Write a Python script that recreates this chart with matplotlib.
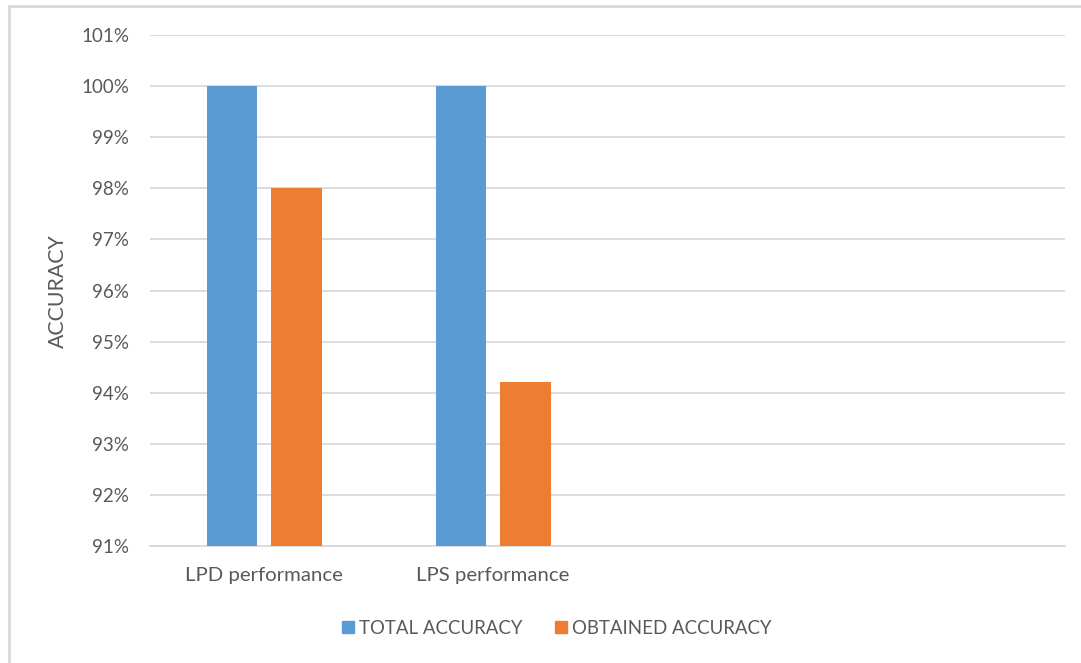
import matplotlib
matplotlib.use("Agg")
import matplotlib.pyplot as plt
from matplotlib.lines import Line2D
from matplotlib.ticker import FuncFormatter, MultipleLocator
import numpy as np

categories = ["LPD performance", "LPS performance", "", ""]
total_accuracy = [1.00, 1.00, np.nan, np.nan]
obtained_accuracy = [0.98, 0.942, np.nan, np.nan]
series_names = ["TOTAL ACCURACY", "OBTAINED ACCURACY"]
colors = ["#5B9BD5", "#ED7D31"]

plt.rcParams['font.family'] = ['Lato', 'DejaVu Sans']
text_color = "#595959"
grid_color = "#D9D9D9"

fig = plt.figure(figsize=(10.81, 6.63), dpi=100)
ax = fig.add_axes([150/1081, 1-546/663, (1065-150)/1081, (546-35)/663])

x = np.arange(len(categories))
w = 0.221
off = 0.141
ax.bar(x - off, total_accuracy, width=w, color=colors[0], zorder=3)
ax.bar(x + off, obtained_accuracy, width=w, color=colors[1], zorder=3)

ax.set_xlim(-0.5, len(categories) - 0.5)
ax.set_ylim(0.91, 1.01)
ax.yaxis.set_major_locator(MultipleLocator(0.01))
ax.yaxis.set_major_formatter(FuncFormatter(lambda v, p: f"{round(v*100)}%"))
ax.set_xticks(x)
ax.set_xticklabels(categories)

ax.grid(axis='y', color=grid_color, linewidth=1.3, zorder=0)
for s in ["top", "right", "left"]:
    ax.spines[s].set_visible(False)
ax.spines["bottom"].set_color(grid_color)
ax.spines["bottom"].set_linewidth(1.3)
ax.tick_params(axis='both', length=0, labelcolor=text_color)
ax.tick_params(axis='y', pad=15, labelsize=13.5)
ax.tick_params(axis='x', pad=15, labelsize=14.7)

fig.text(58/1081, 1-291/663, "ACCURACY", rotation=90, ha='center', va='center',
         color=text_color, fontsize=15.3)

handles = [Line2D([0], [0], marker='s', linestyle='none', markersize=8,
                  markerfacecolor=c, markeredgecolor=c) for c in colors]
leg = fig.legend(handles, series_names, loc='center', bbox_to_anchor=(555/1081, 1-628/663),
                 ncol=2, frameon=False, fontsize=13.4, handletextpad=0.1,
                 columnspacing=1.6, handlelength=1.0)
for t in leg.get_texts():
    t.set_color(text_color)

# chart border (left and top visible)
fig.add_artist(Line2D([9/1081, 9/1081], [0, 1-6/663], color="#D9D9D9", linewidth=2, transform=fig.transFigure))
fig.add_artist(Line2D([9/1081, 1], [1-6/663, 1-6/663], color="#D9D9D9", linewidth=2, transform=fig.transFigure))

fig.savefig("out.png", dpi=100, facecolor="white")
